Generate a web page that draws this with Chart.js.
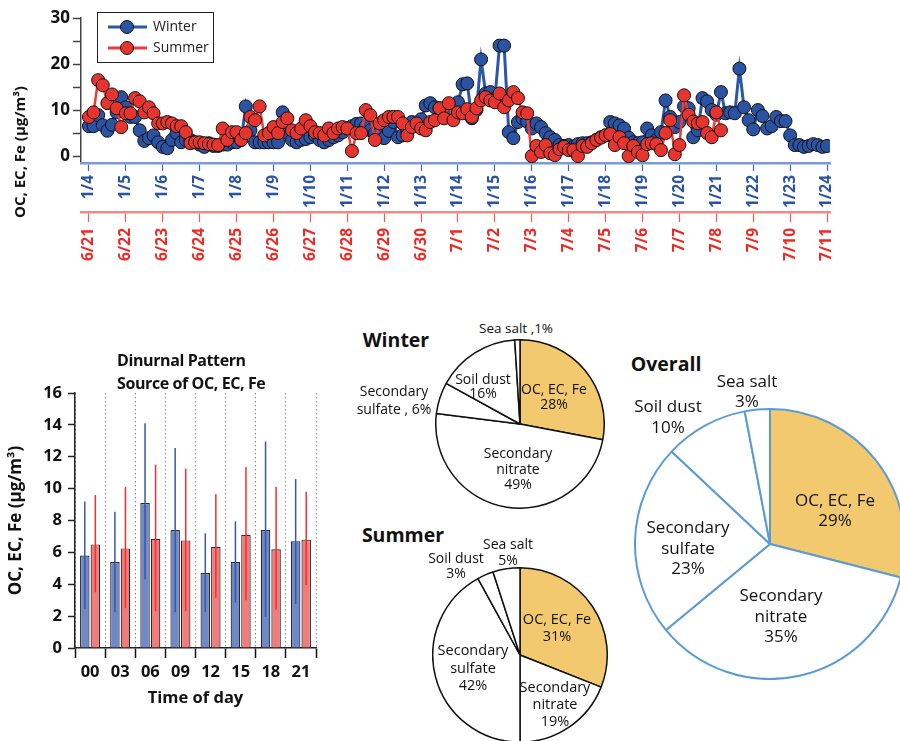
<!DOCTYPE html>
<html>
<head>
<meta charset="utf-8">
<script src="https://cdn.jsdelivr.net/npm/chart.js@4.4.1/dist/chart.umd.min.js"></script>
<style>
html, body { margin: 0; padding: 0; background: #fff; overflow: hidden; }
#page { position: relative; width: 900px; height: 741px; overflow: hidden; font-family: 'Open Sans', sans-serif; color: #111; }
canvas { position: absolute; }
.lbl { position: absolute; transform: translate(-50%, -50%); text-align: center; white-space: pre; color: #111; }
</style>
</head>
<body>
<div id="page">
  <canvas id="timeChart" width="900" height="290" style="left:0;top:0"></canvas>
  <canvas id="hourChart" width="330" height="380" style="left:0;top:340px"></canvas>
  <canvas id="winterPie" width="170" height="170" style="left:435px;top:339px"></canvas>
  <canvas id="summerPie" width="176" height="176" style="left:432px;top:567px"></canvas>
  <canvas id="overallPie" width="272" height="272" style="left:634px;top:408px"></canvas>
</div>
<script>
// ---- time series (3-hourly) ----
const winterDates = ['1/4','1/5','1/6','1/7','1/8','1/9','1/10','1/11','1/12','1/13','1/14',
  '1/15','1/16','1/17','1/18','1/19','1/20','1/21','1/22','1/23','1/24'];
const summerDates = ['6/21','6/22','6/23','6/24','6/25','6/26','6/27','6/28','6/29','6/30','7/1',
  '7/2','7/3','7/4','7/5','7/6','7/7','7/8','7/9','7/10','7/11'];
const hoursPerStep = 3;

const winterValues = [
  6.5, 6.5, 8.9, 6.7, 5.5, 6.8, 9.5, 12.8,
  10.6, 8.5, 8.5, 5.6, 3.3, 3.9, 4.5, 3.0,
  2.0, 1.7, 3.5, 5.0, 3.0, 3.5, 3.5, 3.0,
  2.5, 2.0, 2.8, 2.2, 2.2, 2.5, 2.5, 3.0,
  3.0, 3.5, 10.8, 5.6, 3.0, 3.0, 3.0, 3.0,
  3.0, 3.0, 9.5, 5.0, 3.5, 3.0, 3.5, 3.7,
  4.1, 4.5, 3.5, 3.0, 3.5, 4.1, 4.5, 5.2,
  6.0, 6.5, 7.0, 7.1, 6.5, 5.6, 5.0, 5.0,
  3.9, 5.5, 7.4, 4.1, 4.5, 5.6, 7.4, 6.5,
  8.0, 11.0, 11.5, 10.6, 10.4, 10.0, 10.5, 11.0,
  11.7, 15.6, 15.8, 8.2, 10.0, 21.0, 13.6, 13.9,
  12.5, 24.0, 24.0, 5.2, 3.9, 7.4, 8.2, 7.5,
  6.0, 7.1, 6.3, 5.0, 4.1, 3.5, 2.4, 2.2,
  2.4, 2.0, 2.6, 2.8, 2.8, 3.0, 3.5, 4.1,
  4.5, 7.4, 7.1, 6.7, 6.0, 4.0, 3.0, 2.8,
  3.0, 6.0, 4.5, 3.5, 5.2, 12.1, 8.5, 6.3,
  7.4, 10.8, 10.4, 4.1, 5.6, 12.6, 11.9, 10.0,
  9.0, 13.9, 9.3, 9.5, 9.3, 19.0, 10.6, 7.8,
  5.8, 10.0, 8.7, 6.0, 6.5, 8.5, 7.6, 7.6,
  4.5, 2.4, 2.4, 2.0, 2.2, 2.6, 2.4, 2.0,
  2.2
];

const summerValues = [
  8.5, 9.5, 16.5, 15.4, 11.5, 13.4, 10.4, 6.3,
  9.3, 9.3, 12.6, 11.9, 9.5, 10.6, 9.3, 7.1,
  7.1, 7.4, 7.1, 6.5, 6.5, 5.2, 2.8, 3.0,
  3.0, 2.8, 2.6, 2.5, 2.4, 6.0, 3.5, 5.2,
  5.2, 3.5, 5.0, 8.5, 7.8, 10.8, 4.5, 5.0,
  6.3, 5.0, 7.4, 8.2, 5.6, 5.0, 6.0, 7.8,
  6.5, 5.2, 5.0, 4.5, 6.0, 5.0, 6.0, 6.3,
  6.0, 1.1, 5.0, 5.0, 10.0, 8.9, 3.5, 7.1,
  7.8, 8.5, 8.5, 8.5, 7.1, 4.5, 6.3, 7.1,
  6.0, 5.6, 7.4, 7.8, 10.4, 8.2, 11.5, 7.8,
  9.5, 9.3, 10.2, 8.5, 10.4, 12.1, 12.8, 12.1,
  11.7, 13.6, 10.6, 12.1, 13.9, 12.6, 9.5, 9.3,
  0.0, 2.2, 0.9, 2.4, 0.6, 0.2, 1.5, 2.0,
  1.3, 1.3, 0.0, 2.2, 2.0, 2.8, 3.5, 4.0,
  4.5, 4.8, 2.4, 4.1, 2.8, 0.0, 2.2, 0.9,
  0.2, 2.6, 2.8, 2.6, 1.3, 5.0, 7.8, 0.4,
  2.4, 13.2, 9.0, 7.5, 7.1, 7.4, 5.0, 4.1,
  9.5, 5.6
];
const yTicks = [0, 5, 10, 15, 20, 25, 30];

// ---- diurnal pattern ----
const hours = ['00','03','06','09','12','15','18','21'];
const winterMean  = [5.8, 5.4, 9.1, 7.4, 4.7, 5.4, 7.4, 6.7];
const winterUpper = [9.2, 8.55, 14.1, 12.55, 7.2, 7.95, 12.95, 10.6];
const winterLower = [2.45, 2.25, 4.3, 2.25, 2.25, 2.85, 1.95, 2.75];
const summerMean  = [6.5, 6.25, 6.85, 6.75, 6.35, 7.1, 6.2, 6.8];
const summerUpper = [9.6, 10.1, 11.5, 11.25, 9.65, 11.35, 10.1, 9.8];
const summerLower = [3.5, 2.5, 2.3, 2.3, 3.15, 3.0, 2.4, 3.95];

// ---- source shares (%) ----
const sources = ['OC, EC, Fe', 'Secondary nitrate', 'Secondary sulfate', 'Soil dust', 'Sea salt'];
const winterShare  = [28, 49, 6, 16, 1];
const summerShare  = [31, 19, 42, 3, 5];
const overallShare = [29, 35, 23, 10, 3];

const FONT = "'Open Sans', sans-serif";
const WBLUE = '#2b53a3', SRED = '#e8342e';

function toPoints(vals) {
  return vals.map((v, i) => ({ x: i * hoursPerStep / 24, y: v }));
}

// legend drawn in a box inside the plot
const legendBox = {
  id: 'legendBox',
  afterDraw(chart) {
    const ctx = chart.ctx;
    ctx.save();
    ctx.strokeStyle = '#222';
    ctx.lineWidth = 1;
    ctx.strokeRect(97.5, 12.5, 116, 50);
    const items = [['Winter', '#2c56a8', WBLUE], ['Summer', '#ef3b36', SRED]];
    items.forEach((it, i) => {
      const y = 27 + i * 21;
      ctx.strokeStyle = it[1];
      ctx.lineWidth = 3;
      ctx.beginPath(); ctx.moveTo(108, y); ctx.lineTo(147, y); ctx.stroke();
      ctx.fillStyle = it[2];
      ctx.strokeStyle = '#111';
      ctx.lineWidth = 1;
      ctx.beginPath(); ctx.arc(127, y, 6.5, 0, Math.PI * 2); ctx.fill(); ctx.stroke();
      ctx.fillStyle = '#222';
      ctx.font = '14px ' + FONT;
      ctx.textBaseline = 'middle';
      ctx.fillText(it[0], 153, y);
    });
    ctx.restore();
  }
};

new Chart(document.getElementById('timeChart'), {
  type: 'line',
  data: {
    datasets: [
      {
        label: 'Winter', data: toPoints(winterValues), xAxisID: 'xw', order: 2,
        borderColor: '#2c56a8', borderWidth: 3,
        pointRadius: 6.5, pointBackgroundColor: WBLUE, pointBorderColor: '#111', pointBorderWidth: 1
      },
      {
        label: 'Summer', data: toPoints(summerValues), xAxisID: 'xs', order: 1,
        borderColor: '#ef3b36', borderWidth: 2.5,
        pointRadius: 6.5, pointBackgroundColor: SRED, pointBorderColor: '#111', pointBorderWidth: 1
      }
    ]
  },
  options: {
    responsive: false,
    animation: false,
    layout: { padding: { top: 18, right: 70, bottom: 5, left: 0 } },
    plugins: { legend: { display: false }, tooltip: { enabled: false } },
    scales: {
      y: {
        min: -1.5, max: 30,
        afterFit: s => { s.width = 81; },
        afterBuildTicks: s => { s.ticks = yTicks.map(v => ({ value: v })); },
        ticks: { callback: v => (v % 10 === 0 ? v : ''), color: '#111', padding: 3,
                 font: { family: FONT, size: 17, weight: 'bold' } },
        grid: { drawOnChartArea: false, tickLength: 8, tickColor: '#444', tickWidth: 1.5 },
        border: { color: '#444', width: 1.5 }
      },
      xw: {
        type: 'linear', position: 'bottom', weight: 0,
        min: -0.215, max: 20.08,
        afterFit: s => { s.height = 49; },
        afterBuildTicks: s => { s.ticks = winterDates.map((d, i) => ({ value: i })); },
        ticks: { callback: v => winterDates[v], autoSkip: false, minRotation: 90, maxRotation: 90,
                 color: WBLUE, padding: 4, font: { family: FONT, size: 15.5, weight: 'bold' } },
        grid: { drawOnChartArea: false, tickLength: 8, tickColor: '#3f63b0', tickWidth: 1.2 },
        border: { color: '#7d9bd3', width: 2.5 }
      },
      xs: {
        type: 'linear', position: 'bottom', weight: 1,
        min: -0.215, max: 20.08,
        afterFit: s => { s.height = 73; },
        afterBuildTicks: s => { s.ticks = summerDates.map((d, i) => ({ value: i })); },
        ticks: { callback: v => summerDates[v], autoSkip: false, minRotation: 90, maxRotation: 90,
                 color: '#ee2a24', padding: 6, font: { family: FONT, size: 15.5, weight: 'bold' } },
        grid: { drawOnChartArea: false, tickLength: 10, tickColor: '#f05a55', tickWidth: 1.2 },
        border: { color: '#f08a86', width: 2.5 }
      }
    }
  },
  plugins: [legendBox]
});

// whiskers for the diurnal bars
const errorBars = {
  id: 'errorBars',
  afterDatasetsDraw(chart) {
    const ctx = chart.ctx;
    const y = chart.scales.y;
    chart.data.datasets.forEach((ds, di) => {
      const meta = chart.getDatasetMeta(di);
      ctx.save();
      ctx.strokeStyle = ds.whiskerColor;
      ctx.lineWidth = 1.5;
      meta.data.forEach((bar, i) => {
        ctx.beginPath();
        ctx.moveTo(bar.x, y.getPixelForValue(ds.lower[i]));
        ctx.lineTo(bar.x, y.getPixelForValue(ds.upper[i]));
        ctx.stroke();
      });
      ctx.restore();
    });
  }
};

new Chart(document.getElementById('hourChart'), {
  type: 'bar',
  data: {
    labels: hours,
    datasets: [
      { label: 'Winter', data: winterMean, upper: winterUpper, lower: winterLower,
        backgroundColor: '#6f88c8', borderColor: '#2a2a2a', borderWidth: 1.2, whiskerColor: '#3658a8',
        categoryPercentage: 0.7, barPercentage: 0.9 },
      { label: 'Summer', data: summerMean, upper: summerUpper, lower: summerLower,
        backgroundColor: '#f27c7c', borderColor: '#2a2a2a', borderWidth: 1.2, whiskerColor: '#f03030',
        categoryPercentage: 0.7, barPercentage: 0.9 }
    ]
  },
  options: {
    responsive: false,
    animation: false,
    layout: { padding: { top: 53, right: 14, bottom: 12, left: 0 } },
    plugins: { legend: { display: false }, tooltip: { enabled: false } },
    scales: {
      x: {
        afterFit: s => { s.height = 60; },
        ticks: { color: '#111', padding: 4, font: { family: FONT, size: 16.5, weight: 'bold' } },
        grid: { offset: true, drawOnChartArea: true, color: '#8a8a8a', lineWidth: 1,
                tickLength: 10, tickColor: '#111', tickWidth: 1.5 },
        border: { color: '#222', width: 1.5, dash: [1.5, 2.5] },
        title: { display: true, text: 'Time of day', color: '#111', padding: 0,
                 font: { family: FONT, size: 16.5, weight: 'bold' } }
      },
      y: {
        min: 0, max: 16,
        afterFit: s => { s.width = 75; },
        ticks: { stepSize: 2, color: '#111', padding: 6, font: { family: FONT, size: 16.5, weight: 'bold' } },
        grid: { drawOnChartArea: false, tickLength: 7, tickColor: '#222', tickWidth: 1.5 },
        border: { color: '#222', width: 1.5 },
        title: { display: true, text: 'OC, EC, Fe (µg/m³)', color: '#111', padding: { top: 6, bottom: 0 },
                 font: { family: FONT, size: 17, weight: 'bold' } }
      }
    }
  },
  plugins: [errorBars]
});

function pie(id, shares, edge, width) {
  new Chart(document.getElementById(id), {
    type: 'pie',
    data: {
      labels: sources,
      datasets: [{ data: shares, borderColor: edge, borderWidth: width,
                   backgroundColor: ['#f3c96f', '#ffffff', '#ffffff', '#ffffff', '#ffffff'] }]
    },
    options: {
      responsive: false,
      animation: false,
      layout: { padding: 0 },
      plugins: { legend: { display: false }, tooltip: { enabled: false } }
    }
  });
}
pie('winterPie', winterShare, '#111', 1.5);
pie('summerPie', summerShare, '#111', 1.5);
pie('overallPie', overallShare, '#5b9bd5', 2);

// text placed around the figure
const page = document.getElementById('page');
function addText(text, cx, cy, size, lh, bold, rotate) {
  const d = document.createElement('div');
  d.className = 'lbl';
  d.textContent = text;
  d.style.left = cx + 'px';
  d.style.top = cy + 'px';
  d.style.fontSize = size + 'px';
  d.style.lineHeight = lh + 'px';
  if (bold) d.style.fontWeight = 'bold';
  if (rotate) d.style.transform = 'translate(-50%, -50%) rotate(-90deg)';
  page.appendChild(d);
}
addText('OC, EC, Fe (µg/m³)', 19, 152, 15, 18, true, true);

const title = document.createElement('div');
title.style.cssText = "position:absolute;left:117px;top:349px;font-weight:bold;font-size:16px;line-height:23px;letter-spacing:-0.4px;white-space:pre";
title.textContent = 'Dinurnal Pattern\nSource of OC, EC, Fe';
page.appendChild(title);

const pieText = [
  ['Winter', 396, 340, 19.5, 22, true],
  ['Sea salt ,1%', 516, 328, 13.5, 15],
  ['Soil dust\n16%', 483, 386, 14, 14],
  ['OC, EC, Fe\n28%', 554, 396, 14, 15],
  ['Secondary\nsulfate , 6%', 394, 400, 14, 18],
  ['Secondary\nnitrate\n49%', 518, 468, 14, 15.5],
  ['Summer', 403, 535, 19.5, 22, true],
  ['Sea salt\n5%', 508, 552, 14, 16],
  ['Soil dust\n3%', 456, 565, 14, 15],
  ['OC, EC, Fe\n31%', 557, 627, 14.5, 17],
  ['Secondary\nsulfate\n42%', 473, 667, 14.5, 17.5],
  ['Secondary\nnitrate\n19%', 555, 703, 14.5, 17],
  ['Overall', 666, 364, 19.5, 22, true],
  ['Sea salt\n3%', 747, 391, 17, 20],
  ['Soil dust\n10%', 668, 416, 17, 21],
  ['OC, EC, Fe\n29%', 835, 510, 17, 20],
  ['Secondary\nsulfate\n23%', 688, 548, 17, 20.5],
  ['Secondary\nnitrate\n35%', 781, 616, 17, 20.5]
];
pieText.forEach(t => addText(t[0], t[1], t[2], t[3], t[4], t[5]));
</script>
</body>
</html>
